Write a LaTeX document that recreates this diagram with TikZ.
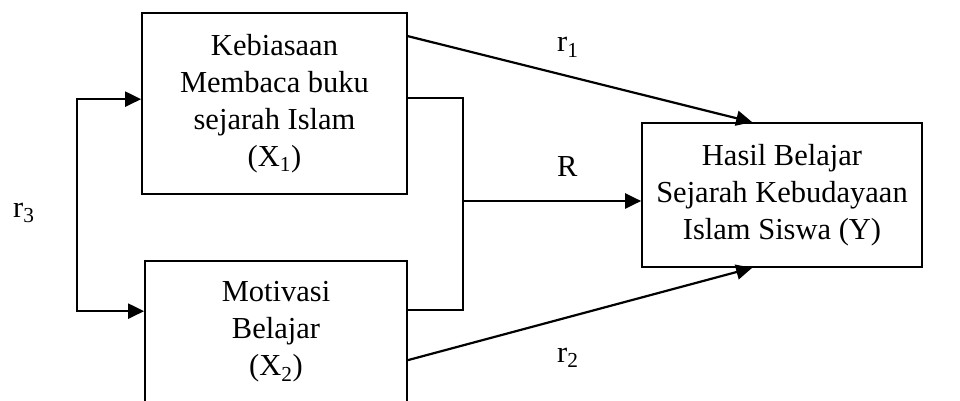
\documentclass[tikz,border=0pt]{standalone}
\usepackage{fontspec}
\setmainfont{Liberation Serif}
\usetikzlibrary{arrows.meta,calc}
\begin{document}
\begin{tikzpicture}[x=1pt,y=-1pt,
  box/.style={draw,line width=1.7pt,inner sep=0pt,align=center,
    font=\fontsize{30.5}{37}\selectfont},
  conn/.style={line width=2.2pt},
  tip/.tip={Triangle[length=16pt,width=15pt]},
  arr/.style={conn,-tip},
  lbl/.style={inner sep=0pt,anchor=base west,font=\fontsize{30.5}{37}\selectfont}]
\clip (0,0) rectangle (960,401);
\node[box,minimum width=265pt,minimum height=181pt] (X1) at (274.5,103.5)
  {Kebiasaan\\Membaca buku\\sejarah Islam\\(X\textsubscript{1})};
\node[box,minimum width=262pt,minimum height=142pt] (X2) at (276,332)
  {Motivasi\\Belajar\\(X\textsubscript{2})};
\node[box,minimum width=280pt,minimum height=144pt] (Y) at (782,195)
  {Hasil Belajar\\Sejarah Kebudayaan\\Islam Siswa (Y)};
% left bracket r3
\coordinate (lt) at ($(X1.north west)+(0,87)$);
\coordinate (lb) at ($(X2.north west)+(0,51)$);
\coordinate (lx) at (77,0);
\draw[conn,tip-tip]
  (lt) -- (lt -| lx) -- (lb -| lx) -- (lb);
% right bracket
\coordinate (rt) at ($(X1.north east)+(0,86)$);
\coordinate (rb) at ($(X2.north east)+(0,50)$);
\coordinate (rx) at (463,0);
\draw[line width=1.7pt] (rt) -- (rt -| rx) -- (rb -| rx) -- (rb);
\coordinate (rm) at (463,201);
\draw[arr] (rm) -- (rm -| Y.west);
% r1, r2
\draw[arr] ($(X1.north east)+(0,24)$) -- ($(Y.north west)+(111,0)$);
\draw[arr] ($(X2.north east)+(0,100)$) -- ($(Y.south west)+(111,0)$);
% labels
\node[lbl] (l1) at (557,52) {r\textsubscript{1}};
\node[lbl] (lR) at (557,176) {R};
\node[lbl] (l2) at (557,362) {r\textsubscript{2}};
\node[lbl] (l3) at (13,217) {r\textsubscript{3}};
\end{tikzpicture}
\end{document}
